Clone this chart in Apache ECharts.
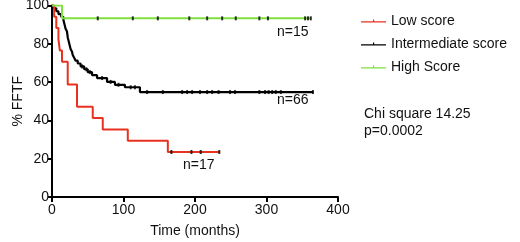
<!DOCTYPE html>
<html>
<head>
<meta charset="utf-8">
<script src="https://cdn.jsdelivr.net/npm/echarts@6/dist/echarts.min.js"></script>
<style>
html,body{margin:0;padding:0;background:#fff;}
#chart{width:520px;height:242px;}
</style>
</head>
<body>
<div id="chart"></div>
<script>
// survival steps [months, % FFTF]
var lowSteps = [[0,100],[3,94.1],[6,88.2],[9,82.4],[11,76.5],[14,70.6],[22,58.8],[35,47.1],[57,41.2],[71,35.3],[106,29.4],[162,23.5],[234,23.5]];
var lowCensor = [[167,23.5],[195,23.5],[208,23.5],[234,23.5]];

var intSteps = [[0,100],[3,98.5],[6,97],[9,95.5],[13,94],[16,92.4],[17,90.9],[18,89.4],[19,87.9],[21,86.4],[22,83.3],[23,81.8],[24,80.3],[25,78.8],[26,77.3],[28,75.8],[29,74.2],[31,72.7],[33,71.2],[36,69.7],[40,68.2],[45,66.7],[50,65.2],[56,63.6],[63,62.1],[77,60.1],[88,58.6],[102,57.3],[123,54.8],[365,54.8]];
var intCensor = [[42,68.2],[48,66.7],[53,65.2],[70,62.1],[82,60.1],[93,58.6],[110,57.3],[116,57.3],[133,54.8],[155,54.8],[182,54.8],[189,54.8],[196,54.8],[207,54.8],[217,54.8],[224,54.8],[233,54.8],[249,54.8],[256,54.8],[290,54.8],[298,54.8],[303,54.8],[308,54.8],[313,54.8],[320,54.8],[365,54.8]];

var highSteps = [[0,100],[14,93.3],[362,93.3]];
var highCensor = [[64,93.3],[113,93.3],[148,93.3],[192,93.3],[217,93.3],[238,93.3],[257,93.3],[290,93.3],[302,93.3],[354,93.3],[358,93.3],[362,93.3]];

var groupNames = ['Low score', 'Intermediate score', 'High Score'];
var groupColors = ['#e8321f', '#000000', '#7fe03e'];
var xTicks = [0, 100, 200, 300, 400];
var yTicks = [0, 20, 40, 60, 80, 100];

var font = 'Liberation Sans, Arial, sans-serif';
var chart = echarts.init(document.getElementById('chart'));

function censorSeries(data) {
	return {
		type: 'scatter',
		data: data,
		symbol: 'rect',
		symbolSize: [2, 4],
		itemStyle: {color: '#000'},
		silent: true,
		z: 5
	};
}

var option = {
	animation: false,
	textStyle: {fontFamily: font},
	grid: {left: 52, right: 182, top: 5.5, bottom: 45, outerBoundsMode: 'none', containLabel: false},
	legend: {
		orient: 'vertical',
		left: 356,
		top: 9,
		itemWidth: 25,
		itemHeight: 8,
		itemGap: 9,
		icon: 'path://M0,3.4H25V4.6H0Z M12,1.5H13.2V4H12Z',
		data: groupNames,
		textStyle: {fontFamily: font, fontSize: 14, color: '#111'}
	},
	xAxis: {
		type: 'value',
		min: xTicks[0],
		max: xTicks[xTicks.length - 1],
		interval: 100,
		name: 'Time (months)',
		nameLocation: 'middle',
		nameGap: 27,
		nameMoveOverlap: false,
		nameTextStyle: {fontFamily: font, fontSize: 14, color: '#111'},
		axisLine: {lineStyle: {color: '#000', width: 2}},
		axisTick: {length: 5, lineStyle: {width: 2, color: '#000'}},
		axisLabel: {fontFamily: font, fontSize: 14, color: '#111', margin: 6},
		splitLine: {show: false}
	},
	yAxis: {
		type: 'value',
		min: yTicks[0],
		max: yTicks[yTicks.length - 1],
		interval: 20,
		name: '% FFTF',
		nameLocation: 'middle',
		nameGap: 27,
		nameMoveOverlap: false,
		nameTextStyle: {fontFamily: font, fontSize: 14, color: '#111'},
		axisLine: {lineStyle: {color: '#000', width: 2}},
		axisTick: {length: 4, lineStyle: {width: 2, color: '#000'}},
		axisLabel: {fontFamily: font, fontSize: 14, color: '#111', margin: 3},
		splitLine: {show: false}
	},
	series: [
		{name: groupNames[0], type: 'line', step: 'end', data: lowSteps, showSymbol: false,
			color: groupColors[0], lineStyle: {width: 2, color: groupColors[0]}, z: 3},
		{name: groupNames[1], type: 'line', step: 'end', data: intSteps, showSymbol: false,
			color: groupColors[1], lineStyle: {width: 2.2, color: groupColors[1]}, z: 2},
		{name: groupNames[2], type: 'line', step: 'end', data: highSteps, showSymbol: false,
			color: groupColors[2], lineStyle: {width: 2, color: groupColors[2]}, z: 4},
		censorSeries(lowCensor),
		censorSeries(intCensor),
		censorSeries(highCensor)
	],
	graphic: [
		{type: 'text', left: 277, top: 25, style: {text: 'n=15', font: '14px ' + font, fill: '#111'}},
		{type: 'text', left: 277, top: 93, style: {text: 'n=66', font: '14px ' + font, fill: '#111'}},
		{type: 'text', left: 183, top: 158, style: {text: 'n=17', font: '14px ' + font, fill: '#111'}},
		{type: 'text', left: 364, top: 106, style: {text: 'Chi square 14.25\np=0.0002', font: '14px ' + font, fill: '#111', lineHeight: 17}}
	]
};
chart.setOption(option);
</script>
</body>
</html>
